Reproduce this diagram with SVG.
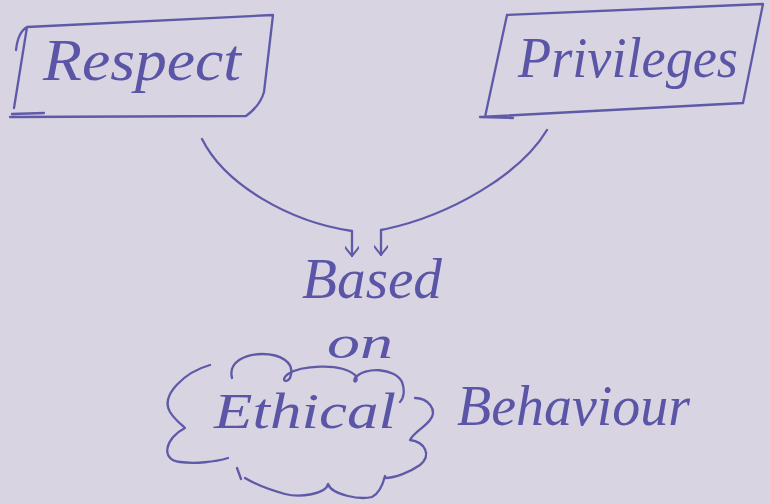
<svg xmlns="http://www.w3.org/2000/svg" width="770" height="504" viewBox="0 0 770 504">
  <style>
    .ink { fill: none; stroke: #5f5aa8; stroke-width: 2.3; stroke-linecap: round; stroke-linejoin: round; }
    .txt { font-family: "Liberation Serif", "DejaVu Serif", serif; font-style: italic; fill: #5a55a6; }
  </style>
  <defs>
    <marker id="arr" viewBox="0 0 12 14" refX="11" refY="7" markerWidth="12" markerHeight="14" markerUnits="userSpaceOnUse" orient="auto">
      <path d="M2,0 L11,7 L2,14" fill="none" stroke="#5f5aa8" stroke-width="2" stroke-linecap="round" stroke-linejoin="round"/>
    </marker>
  </defs>
  <rect x="0" y="0" width="770" height="504" fill="#d8d4e1"/>

  <g id="node-respect">
    <path class="ink" d="M16,50 Q18,32 27,27 L273,15 L264,92 Q260,106 246,116 L10,117 M27,27 L14,108 M12,114 L44,113"/>
    <text class="txt" x="43" y="80" font-size="60" textLength="198" lengthAdjust="spacingAndGlyphs">Respect</text>
  </g>

  <g id="node-privileges">
    <path class="ink" d="M507,15 L763,4 L743,103 L480,117 M507,15 L485,117 M480,117 L513,118"/>
    <text class="txt" x="518" y="77" font-size="56" textLength="220" lengthAdjust="spacingAndGlyphs">Privileges</text>
  </g>

  <g id="connectors">
    <path class="ink" d="M202,139 C225,185 290,222 352,231 L352,256" marker-end="url(#arr)"/>
    <path class="ink" d="M547,130 C520,175 450,215 386,229 L381,230 L381,255" marker-end="url(#arr)"/>
  </g>

  <g id="node-based-on">
    <text class="txt" x="302" y="298" font-size="56" textLength="140" lengthAdjust="spacingAndGlyphs">Based</text>
    <text class="txt" x="327" y="358" font-size="46" textLength="66" lengthAdjust="spacingAndGlyphs">on</text>
  </g>

  <g id="node-ethical">
    <path class="ink" d="M210,365 C185,372 160,395 170,412 C175,420 182,425 185,428 C165,438 160,460 180,462 C195,464 215,462 228,458"/>
    <path class="ink" d="M232,378 C228,362 245,354 262,354 C280,354 296,362 290,378 C286,384 280,380 288,374 C300,366 340,362 355,375 C360,382 352,384 355,378 C365,366 395,368 402,382 C405,390 404,398 400,402"/>
    <path class="ink" d="M415,398 C428,398 438,410 430,420 C424,428 414,432 410,440 C425,442 432,455 420,465 C410,472 395,478 385,478"/>
    <path class="ink" d="M385,476 C382,488 378,494 372,497 C360,500 332,495 328,484 C326,494 300,498 285,494 C270,490 255,484 245,478 M237,468 L241,479"/>
    <text class="txt" x="214" y="428" font-size="50" textLength="182" lengthAdjust="spacingAndGlyphs">Ethical</text>
  </g>

  <g id="node-behaviour">
    <text class="txt" x="457" y="425" font-size="58" textLength="233" lengthAdjust="spacingAndGlyphs">Behaviour</text>
  </g>
</svg>
